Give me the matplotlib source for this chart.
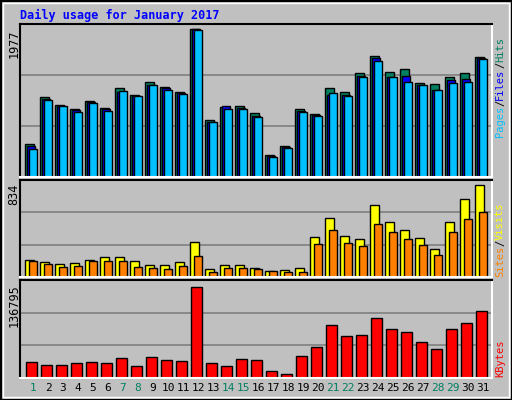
import matplotlib.pyplot as plt
import numpy as np

days = list(range(1, 32))
weekend = [1, 7, 8, 14, 15, 21, 22, 28, 29]

hits = [445, 1062, 964, 911, 1018, 924, 1185, 1100, 1275, 1208, 1141, 1977, 756, 930, 944, 850, 300, 420, 907, 840,
        1185, 1131, 1387, 1615, 1409, 1449, 1261, 1248, 1342, 1395, 1601]
files = [420, 1044, 952, 894, 996, 907, 1140, 1082, 1234, 1185, 1127, 1977, 729, 952, 916, 818, 286, 402, 880, 826,
         1100, 1100, 1355, 1588, 1342, 1355, 1234, 1167, 1302, 1311, 1583]
pages = [380, 1031, 952, 872, 992, 885, 1154, 1087, 1234, 1167, 1114, 1959, 729, 903, 903, 796, 273, 393, 867, 813,
         1127, 1087, 1333, 1548, 1342, 1275, 1234, 1167, 1261, 1275, 1574]
visits = [156, 138, 120, 129, 156, 183, 183, 147, 111, 111, 138, 319, 75, 111, 111, 84, 57, 66, 84, 364,
          536, 373, 346, 653, 500, 427, 355, 256, 500, 707, 834]
sites = [147, 120, 93, 102, 147, 147, 147, 93, 84, 75, 102, 193, 48, 84, 84, 75, 57, 48, 48, 301,
         427, 310, 283, 481, 409, 346, 292, 201, 409, 527, 590]
kbytes = [24465, 19971, 19971, 22967, 24465, 22967, 30456, 18473, 31954, 27461, 25963, 136795, 22967, 18473, 28959,
          27461, 10984, 6490, 33452, 46931, 79885, 63408, 64906, 90370, 73893, 69400, 54421, 43936, 73893, 82880, 100855]

bg = '#C0C0C0'
fig = plt.figure(figsize=(5.12, 4), dpi=100, facecolor=bg)
W, H = 512, 400
x = np.array(days) - 1


def panel(y0, y1):
    ax = fig.add_axes([20 / W, 1 - y1 / H, 472 / W, (y1 - y0) / H])
    ax.set_facecolor(bg)
    ax.set_xlim(0, 472 / 15)
    ax.set_xticks([])
    ax.set_yticks([])
    for s in ['top', 'left']:
        ax.spines[s].set_color('black')
    for s in ['bottom', 'right']:
        ax.spines[s].set_color('white')
    for s in ax.spines.values():
        s.set_linewidth(1.5)
    return ax


def grid(ax, top):
    for f in (1 / 3, 2 / 3):
        ax.axhline(top * f, color='#808080', lw=1.2, zorder=0)


u = 1 / 15
# top panel
ax1 = panel(24, 177)
top1 = 1977 * 153 / 148
ax1.set_ylim(0, top1)
grid(ax1, top1)
ax1.bar(x + 5 * u, hits, width=8.5 * u, align='edge', color='#008060', edgecolor='black', lw=1)
ax1.bar(x + 6.7 * u, files, width=8 * u, align='edge', color='#0000FF', edgecolor='black', lw=1)
ax1.bar(x + 9 * u, pages, width=7.7 * u, align='edge', color='#00C0FF', edgecolor='black', lw=1)

# middle panel
ax2 = panel(180, 277)
top2 = 834 * 97 / 92.3
ax2.set_ylim(0, top2)
grid(ax2, top2)
ax2.bar(x + 5 * u, visits, width=9 * u, align='edge', color='#FFFF00', edgecolor='black', lw=1)
ax2.bar(x + 9 * u, sites, width=7.7 * u, align='edge', color='#FF8000', edgecolor='black', lw=1)

# bottom panel
ax3 = panel(280, 378)
top3 = 136795 * 98 / 91.3
ax3.set_ylim(0, top3)
grid(ax3, top3)
ax3.bar(x + 6 * u, kbytes, width=10.7 * u, align='edge', color='#FF0000', edgecolor='black', lw=1)

mono = dict(family='DejaVu Sans Mono', fontsize=8.5)
fig.text(20 / W, 1 - 15 / H, 'Daily usage for January 2017', color='#0000FF', fontweight='bold',
         va='center', ha='left', **mono)
fig.text(14 / W, 1 - 29 / H, '1977', rotation=90, ha='center', va='top', **mono)
fig.text(14 / W, 1 - 184 / H, '834', rotation=90, ha='center', va='top', **mono)
fig.text(14 / W, 1 - 284 / H, '136795', rotation=90, ha='center', va='top', **mono)

for d in days:
    fig.text((20 + (d - 1) * 15 + 13) / W, 1 - 388 / H, str(d), ha='center', va='center',
             color='#008060' if d in weekend else 'black', family='DejaVu Sans Mono', fontsize=8)

renderer = fig.canvas.get_renderer()


def vlabel(parts, ybottom):
    y = ybottom
    for txt, col in parts:
        t = fig.text(500 / W, 1 - y / H, txt, rotation=90, ha='center', va='bottom', color=col,
                     family='DejaVu Sans Mono', fontsize=7.5)
        y -= t.get_window_extent(renderer).height


vlabel([('Pages', '#00C0FF'), ('/', 'black'), ('Files', '#0000FF'), ('/', 'black'), ('Hits', '#008060')], 137)
vlabel([('Sites', '#FF8000'), ('/', 'black'), ('Visits', '#FFFF00')], 277)
vlabel([('KBytes', '#FF0000')], 377)

# outer border
fig.add_artist(plt.Rectangle((0.5 / W, 0.5 / H), 1 - 1 / W, 1 - 1 / H, transform=fig.transFigure,
                             fill=False, edgecolor='black', lw=1.5))
fig.add_artist(plt.Rectangle((3 / W, 3 / H), 1 - 6 / W, 1 - 6 / H, transform=fig.transFigure,
                             fill=False, edgecolor='white', lw=1))

fig.savefig('out.png', dpi=100, facecolor=bg)
